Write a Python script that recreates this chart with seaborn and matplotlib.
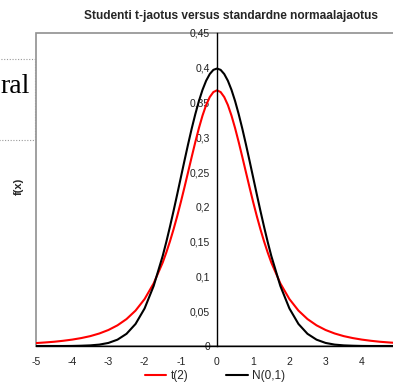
import seaborn as sns
import matplotlib.pyplot as plt
import matplotlib.patches as mpatches
from matplotlib.ticker import FuncFormatter
import pandas as pd

# values, right half (the curves are symmetric around 0)
x_half = [0.0, 0.1, 0.2, 0.3, 0.4, 0.5, 0.6, 0.7, 0.8, 0.9, 1.0, 1.1, 1.2, 1.3, 1.4, 1.5,
          1.75, 2.0, 2.25, 2.5, 2.75, 3.0, 3.25, 3.5, 3.75, 4.0, 4.25, 4.5, 4.75, 5.0]
t_half = [0.3676, 0.3651, 0.3579, 0.3465, 0.3313, 0.3132, 0.2930, 0.2716, 0.2497, 0.2279,
          0.2067, 0.1866, 0.1678, 0.1504, 0.1345, 0.1200,
          0.0900, 0.0675, 0.0509, 0.0387, 0.0297, 0.0230, 0.0180, 0.0142, 0.0114,
          0.0092, 0.0075, 0.0061, 0.0051, 0.0042]
n_half = [0.3989, 0.3970, 0.3910, 0.3814, 0.3683, 0.3521, 0.3332, 0.3123, 0.2897, 0.2661,
          0.2420, 0.2179, 0.1942, 0.1714, 0.1497, 0.1295,
          0.0863, 0.0540, 0.0317, 0.0175, 0.0091, 0.0044, 0.0020, 0.0009, 0.0004,
          0.0001, 0.0000, 0.0000, 0.0000, 0.0000]
x_vals = [-v for v in x_half[::-1]] + x_half[1:]
t_vals = t_half[::-1] + t_half[1:]
n_vals = n_half[::-1] + n_half[1:]
y_ticks = [0, 0.05, 0.1, 0.15, 0.2, 0.25, 0.3, 0.35, 0.4, 0.45]
x_ticks = [-5, -4, -3, -2, -1, 0, 1, 2, 3, 4]

df = pd.DataFrame({"x": x_vals, "t(2)": t_vals, "N(0,1)": n_vals})

sns.set_theme(style="white")
plt.rcParams['font.family'] = ['Liberation Sans', 'DejaVu Sans']

fig = plt.figure(figsize=(3.93, 3.83), dpi=100)
ax = fig.add_axes([36 / 393, 37 / 383, 362 / 393, 313 / 383])

sns.lineplot(data=df, x="x", y="t(2)", color="red", lw=1.5, label="t(2)", ax=ax)
sns.lineplot(data=df, x="x", y="N(0,1)", color="black", lw=1.5, label="N(0,1)", ax=ax)

ax.set_xlim(-5, 5)
ax.set_ylim(0, 0.45)
ax.set_xticks(x_ticks)
ax.set_yticks(y_ticks)
fmt = FuncFormatter(lambda v, p: f"{v:g}".replace(".", ","))
ax.yaxis.set_major_formatter(fmt)
ax.xaxis.set_major_formatter(fmt)

# gray outer frame, black axes through origin
ax.patch.set_edgecolor("#909090")
ax.patch.set_linewidth(1.2)
for s in ["top", "right"]:
    ax.spines[s].set_visible(False)
ax.spines["left"].set_position(("data", 0))
ax.spines["left"].set_color("black")
ax.spines["left"].set_linewidth(1.0)
ax.spines["bottom"].set_color("black")
ax.spines["bottom"].set_linewidth(1.0)
ax.tick_params(axis="both", direction="out", length=3, width=0.8, color="black",
               labelsize=7.5, labelcolor="#222222", pad=2)
ax.tick_params(axis="x", pad=5)

ax.set_xlabel("")
ax.set_ylabel("f(x)", fontsize=8, fontweight="bold")
ax.yaxis.set_label_coords(-0.034, 0.51)
ax.set_title("Studenti t-jaotus versus standardne normaalajaotus",
             fontsize=8.6, fontweight="bold", x=0.538, pad=10)

ax.legend(loc="center", bbox_to_anchor=(0.495, -0.096), ncol=2, frameon=False,
          fontsize=8.5, handlelength=1.8, handletextpad=0.4, columnspacing=3.2)

# fragment of the surrounding page on the left
fig.patches.append(mpatches.Rectangle((-0.01, 1 - 140 / 383), 38.5 / 393, 81 / 383,
                                      transform=fig.transFigure, fill=False,
                                      edgecolor="#999999", lw=0.8, ls=(0, (1, 1.5))))
fig.text(0.0, 1 - 93 / 383, "ral", family="Liberation Serif", fontsize=20,
         color="black", ha="left", va="baseline")

fig.savefig("out.png", dpi=100)
